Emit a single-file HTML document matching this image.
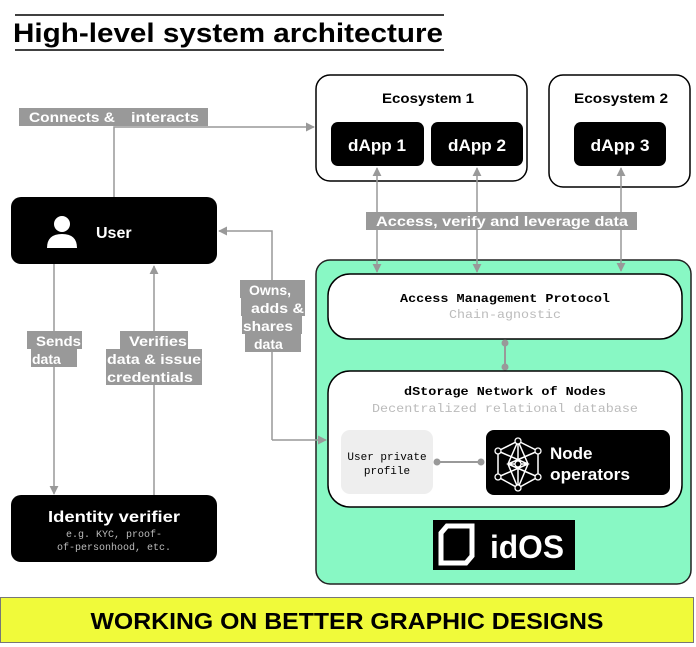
<!DOCTYPE html>
<html><head><meta charset="utf-8"><style>
html,body{margin:0;padding:0;background:#fff;width:696px;height:647px;overflow:hidden}
svg{display:block}
.s{font-family:"Liberation Sans",sans-serif;font-weight:bold}
.m{font-family:"Liberation Mono",monospace}
</style></head><body>
<svg width="696" height="647" viewBox="0 0 696 647" xmlns="http://www.w3.org/2000/svg">
<defs>
<marker id="a" viewBox="0 0 10 10" refX="9" refY="5" markerWidth="9" markerHeight="9" orient="auto-start-reverse" markerUnits="userSpaceOnUse"><path d="M0,0L10,5L0,10z" fill="#999"/></marker>
</defs>
<line x1="15" y1="15" x2="444" y2="15" stroke="#000" stroke-width="1.5"/>
<text x="13" y="42" class="s" font-size="27" fill="#000" textLength="430" lengthAdjust="spacingAndGlyphs">High-level system architecture</text>
<line x1="15" y1="50" x2="444" y2="50" stroke="#000" stroke-width="1.5"/>

<rect x="11" y="197" width="206" height="67" rx="10" fill="#000"/>
<circle cx="62" cy="224" r="8" fill="#fff"/>
<path d="M47,248 Q47,234 62,234 Q77,234 77,248 Z" fill="#fff"/>
<text x="96" y="238" class="s" font-size="16" fill="#fff">User</text>

<rect x="11" y="495" width="206" height="67" rx="10" fill="#000"/>
<text x="114" y="522" text-anchor="middle" class="s" font-size="16" fill="#fff" textLength="132" lengthAdjust="spacingAndGlyphs">Identity verifier</text>
<text x="114" y="537" text-anchor="middle" class="m" font-size="10" fill="#bbb">e.g. KYC, proof-</text>
<text x="114" y="550" text-anchor="middle" class="m" font-size="10" fill="#bbb">of-personhood, etc.</text>

<rect x="316" y="75" width="211" height="106" rx="14" fill="#fff" stroke="#000" stroke-width="1.5"/>
<text x="428" y="103" text-anchor="middle" class="s" font-size="14" textLength="92" lengthAdjust="spacingAndGlyphs">Ecosystem 1</text>
<rect x="331" y="122" width="93" height="44" rx="7" fill="#000"/>
<rect x="431" y="122" width="92" height="44" rx="7" fill="#000"/>
<text x="377" y="151" text-anchor="middle" class="s" font-size="17" fill="#fff" textLength="58" lengthAdjust="spacingAndGlyphs">dApp 1</text>
<text x="477" y="151" text-anchor="middle" class="s" font-size="17" fill="#fff" textLength="58" lengthAdjust="spacingAndGlyphs">dApp 2</text>
<rect x="549" y="75" width="141" height="112" rx="14" fill="#fff" stroke="#000" stroke-width="1.5"/>
<text x="621" y="103" text-anchor="middle" class="s" font-size="14" textLength="94" lengthAdjust="spacingAndGlyphs">Ecosystem 2</text>
<rect x="574" y="122" width="92" height="44" rx="7" fill="#000"/>
<text x="620" y="151" text-anchor="middle" class="s" font-size="17" fill="#fff" textLength="59" lengthAdjust="spacingAndGlyphs">dApp 3</text>

<rect x="316" y="260" width="375" height="324" rx="14" fill="#88f8c4" stroke="#222" stroke-width="1.5"/>
<rect x="328" y="274" width="354" height="65" rx="22" fill="#fff" stroke="#000" stroke-width="1.5"/>
<text x="505" y="302" text-anchor="middle" class="m" font-size="12" font-weight="bold" textLength="210" lengthAdjust="spacingAndGlyphs">Access Management Protocol</text>
<text x="505" y="318" text-anchor="middle" class="m" font-size="12" fill="#bbb" textLength="112" lengthAdjust="spacingAndGlyphs">Chain-agnostic</text>
<line x1="505" y1="343" x2="505" y2="367" stroke="#999" stroke-width="2"/>
<circle cx="505" cy="343" r="3.5" fill="#999"/><circle cx="505" cy="367" r="3.5" fill="#999"/>
<rect x="328" y="371" width="354" height="136" rx="22" fill="#fff" stroke="#000" stroke-width="1.5"/>
<text x="505" y="395" text-anchor="middle" class="m" font-size="12" font-weight="bold" textLength="202" lengthAdjust="spacingAndGlyphs">dStorage Network of Nodes</text>
<text x="505" y="412" text-anchor="middle" class="m" font-size="12" fill="#bbb" textLength="266" lengthAdjust="spacingAndGlyphs">Decentralized relational database</text>
<rect x="341" y="430" width="92" height="64" rx="9" fill="#eee"/>
<text x="387" y="460" text-anchor="middle" class="m" font-size="11">User private</text>
<text x="387" y="474" text-anchor="middle" class="m" font-size="11">profile</text>
<line x1="437" y1="462" x2="481" y2="462" stroke="#999" stroke-width="2"/>
<circle cx="437" cy="462" r="3.5" fill="#999"/><circle cx="481" cy="462" r="3.5" fill="#999"/>
<rect x="486" y="430" width="184" height="65" rx="8" fill="#000"/>
<g stroke="#fff" stroke-width="1.5" fill="none">
<polygon points="518,441 538,451 538,477 518,488 498,477 498,451"/>
<path d="M518,441 L508,464 L518,488 L528,464 Z M498,451 L528,464 L498,477 M538,451 L508,464 L538,477 M508,464 L528,464 M518,441 L518,488"/>
</g>
<g fill="#000" stroke="#fff" stroke-width="1.3">
<circle cx="518" cy="441" r="3"/><circle cx="538" cy="451" r="3"/><circle cx="538" cy="477" r="3"/><circle cx="518" cy="488" r="3"/><circle cx="498" cy="477" r="3"/><circle cx="498" cy="451" r="3"/><circle cx="518" cy="464" r="3"/>
</g>
<text x="550" y="459" class="s" font-size="17" fill="#fff">Node</text>
<text x="550" y="480" class="s" font-size="17" fill="#fff" textLength="80" lengthAdjust="spacingAndGlyphs">operators</text>
<rect x="433" y="520" width="142" height="50" fill="#000"/>
<path d="M441,533 L447,526 L472,526 L472,556 L466,563 L441,563 Z" fill="none" stroke="#fff" stroke-width="5"/>
<text x="490" y="558" class="s" font-size="32" fill="#fff" font-weight="normal" textLength="74" lengthAdjust="spacingAndGlyphs">idOS</text>

<g stroke="#999" stroke-width="1.5" fill="none">
<polyline points="114,197 114,127 314,127" marker-end="url(#a)"/>
<polyline points="272,440 272,231 219,231" marker-end="url(#a)"/>
<polyline points="272,440 326,440" marker-end="url(#a)"/>
<line x1="54" y1="264" x2="54" y2="494" marker-end="url(#a)"/>
<line x1="154" y1="495" x2="154" y2="266" marker-end="url(#a)"/>
<line x1="377" y1="168" x2="377" y2="272" marker-start="url(#a)" marker-end="url(#a)"/>
<line x1="477" y1="168" x2="477" y2="272" marker-start="url(#a)" marker-end="url(#a)"/>
<line x1="621" y1="168" x2="621" y2="271" marker-start="url(#a)" marker-end="url(#a)"/>
</g>

<rect x="19" y="108" width="189" height="18" fill="#999"/>
<text x="29" y="122" class="s" font-size="14" fill="#fff" textLength="86" lengthAdjust="spacingAndGlyphs">Connects &amp;</text>
<text x="131" y="122" class="s" font-size="14" fill="#fff" textLength="68" lengthAdjust="spacingAndGlyphs">interacts</text>
<rect x="366" y="212" width="271" height="18" fill="#999"/>
<text x="376" y="226" class="s" font-size="14" fill="#fff" textLength="252" lengthAdjust="spacingAndGlyphs">Access, verify and leverage data</text>
<g fill="#999">
<rect x="240" y="280" width="65" height="18"/><rect x="241" y="298" width="64" height="18"/>
<rect x="242" y="316" width="60" height="18"/><rect x="245" y="334" width="56" height="18"/>
<rect x="27" y="331" width="55" height="18"/><rect x="31" y="349" width="46" height="18"/>
<rect x="120" y="331" width="68" height="18"/><rect x="106" y="349" width="96" height="18"/><rect x="106" y="367" width="96" height="18"/>
</g>
<g class="s" font-size="14" fill="#fff">
<text x="249" y="295">Owns,</text><text x="251" y="313" textLength="53" lengthAdjust="spacingAndGlyphs">adds &amp;</text>
<text x="243" y="331" textLength="50" lengthAdjust="spacingAndGlyphs">shares</text><text x="254" y="349">data</text>
<text x="36" y="346" textLength="45" lengthAdjust="spacingAndGlyphs">Sends</text><text x="32" y="364">data</text>
<text x="129" y="346" textLength="58" lengthAdjust="spacingAndGlyphs">Verifies</text><text x="107" y="364" textLength="94" lengthAdjust="spacingAndGlyphs">data &amp; issue</text><text x="107" y="382" textLength="86" lengthAdjust="spacingAndGlyphs">credentials</text>
</g>

<rect x="0.5" y="597.5" width="693" height="45" fill="#f0fa3a" stroke="#777" stroke-width="1"/>
<text x="347" y="629" text-anchor="middle" class="s" font-size="23" fill="#000" textLength="513" lengthAdjust="spacingAndGlyphs">WORKING ON BETTER GRAPHIC DESIGNS</text>
</svg>
</body></html>
